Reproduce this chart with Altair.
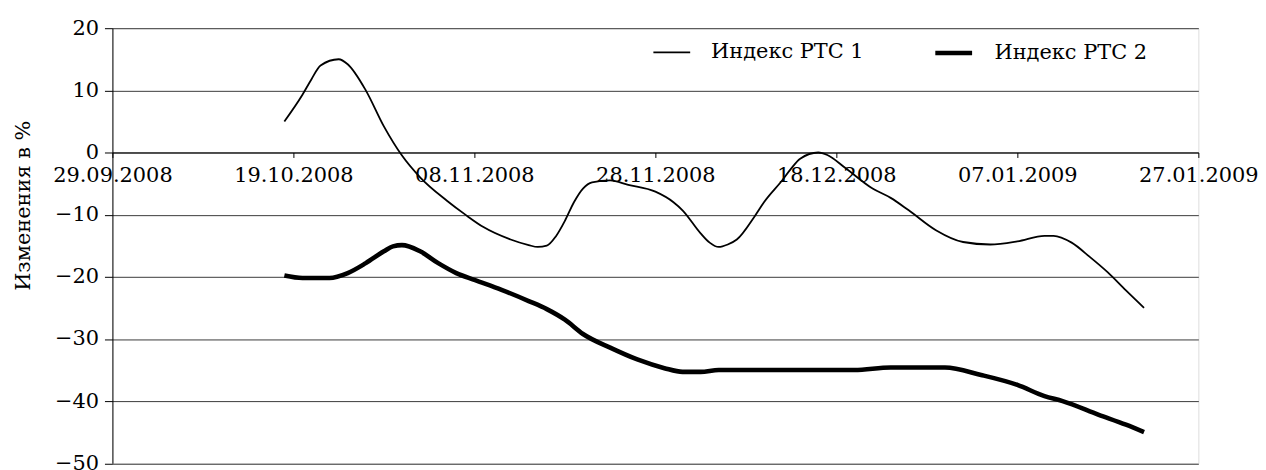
import altair as alt
import pandas as pd

# ---- data ----
series_names = ["Индекс РТС 1", "Индекс РТС 2"]

dates_1 = ["2008-10-18", "2008-10-20", "2008-10-21", "2008-10-22", "2008-10-24", "2008-10-25",
           "2008-10-27", "2008-10-29", "2008-10-31", "2008-11-02", "2008-11-05", "2008-11-07",
           "2008-11-09", "2008-11-12", "2008-11-14", "2008-11-15", "2008-11-16", "2008-11-17",
           "2008-11-18", "2008-11-19", "2008-11-20", "2008-11-21", "2008-11-23", "2008-11-25",
           "2008-11-28", "2008-11-30", "2008-12-01", "2008-12-03", "2008-12-04", "2008-12-05",
           "2008-12-06", "2008-12-07", "2008-12-09", "2008-12-10", "2008-12-12", "2008-12-13",
           "2008-12-14", "2008-12-16", "2008-12-17", "2008-12-19", "2008-12-22", "2008-12-24",
           "2008-12-26", "2008-12-29", "2009-01-01", "2009-01-04", "2009-01-07", "2009-01-10",
           "2009-01-11", "2009-01-13", "2009-01-15", "2009-01-17", "2009-01-19", "2009-01-21"]
values_1 = [5.0, 9.3, 11.8, 14.0, 15.0, 14.2,
            10.0, 4.2, -0.5, -4.0, -7.8, -10.0,
            -12.0, -14.0, -14.9, -15.2, -15.0, -13.5,
            -11.0, -8.0, -5.8, -4.8, -4.5, -5.2,
            -6.3, -8.0, -9.3, -13.0, -14.5, -15.2,
            -14.8, -14.0, -10.2, -8.0, -4.5, -2.6,
            -1.0, 0.0, -0.4, -2.5, -5.8, -7.3,
            -9.3, -12.5, -14.4, -14.8, -14.3, -13.4,
            -13.4, -14.5, -16.8, -19.3, -22.2, -25.0]

dates_2 = ["2008-10-18", "2008-10-20", "2008-10-23", "2008-10-25", "2008-10-27", "2008-10-29",
           "2008-10-30", "2008-10-31", "2008-11-02", "2008-11-04", "2008-11-06", "2008-11-08",
           "2008-11-11", "2008-11-14", "2008-11-16", "2008-11-18", "2008-11-20", "2008-11-23",
           "2008-11-26", "2008-11-29", "2008-12-01", "2008-12-03", "2008-12-05", "2008-12-10",
           "2008-12-16", "2008-12-20", "2008-12-24", "2008-12-30", "2009-01-03", "2009-01-07",
           "2009-01-10", "2009-01-12", "2009-01-16", "2009-01-19", "2009-01-21"]
values_2 = [-19.8, -20.2, -20.2, -19.4, -17.8, -15.9,
            -15.1, -14.9, -15.9, -17.8, -19.4, -20.5,
            -22.1, -23.9, -25.2, -26.9, -29.2, -31.4,
            -33.3, -34.7, -35.3, -35.3, -35.0, -35.0,
            -35.0, -35.0, -34.6, -34.6, -35.8, -37.4,
            -39.2, -40.0, -42.2, -43.8, -45.0]

x_tick_labels = ["29.09.2008", "19.10.2008", "08.11.2008", "28.11.2008",
                 "18.12.2008", "07.01.2009", "27.01.2009"]
y_ticks = [-50, -40, -30, -20, -10, 0, 10, 20]

y_title = "Изменения в %"

# ---- build table ----
df = pd.concat([
    pd.DataFrame({"date": dates_1, "value": values_1, "series": series_names[0]}),
    pd.DataFrame({"date": dates_2, "value": values_2, "series": series_names[1]}),
], ignore_index=True)


def to_ms(s):
    return int(pd.to_datetime(s, dayfirst=True).value // 10**6)


tick_ms = [to_ms(t) for t in x_tick_labels]

FONT = "DejaVu Serif"
FS = 21
W, H = 1092, 437.5
zero_offset = -(H - H * 20 / 70)

lines = alt.Chart(df).mark_line(color="black", interpolate="monotone").encode(
    x=alt.X("date:T",
            scale=alt.Scale(type="utc", domain=[tick_ms[0], tick_ms[-1]], nice=False),
            axis=alt.Axis(values=tick_ms, title=None, grid=False,
                          labelExpr="utcFormat(datum.value, '%d.%m.%Y')",
                          offset=zero_offset, domainColor="black", tickColor="black",
                          tickSize=5, labelPadding=7, labelFont=FONT, labelFontSize=FS,
                          labelColor="black", labelFlush=False, labelOverlap=False)),
    y=alt.Y("value:Q",
            scale=alt.Scale(domain=[-50, 20], nice=False),
            axis=alt.Axis(values=y_ticks, title=y_title, grid=True, gridColor="#3a3a3a",
                          gridWidth=1, domainColor="black", tickColor="black", tickSize=8,
                          labelPadding=6, labelFont=FONT, labelFontSize=FS, labelColor="black",
                          titleFont=FONT, titleFontSize=FS, titleFontWeight="normal",
                          titleColor="black", titleX=-89, titleY=178, titleAngle=270,
                          titleAlign="center", titleBaseline="middle")),
    strokeWidth=alt.StrokeWidth("series:N",
                                scale=alt.Scale(domain=series_names, range=[1.8, 4.6]),
                                legend=alt.Legend(title=None, orient="none", legendX=543,
                                                  legendY=4, direction="horizontal",
                                                  symbolType="stroke", symbolSize=1369,
                                                  symbolStrokeColor="black",
                                                  labelFont=FONT, labelFontSize=FS,
                                                  labelColor="black", labelOffset=20,
                                                  columnPadding=62)),
    detail="series:N",
)

chart = lines.properties(
    width=W, height=H,
    autosize=alt.AutoSizeParams(type="none"),
    padding={"left": 105, "top": 19, "right": 60, "bottom": 10},
).configure_view(stroke="black", strokeWidth=1).configure(background="white",
                                                          font=FONT)

chart.save("out.html", embed_options={"renderer": "svg", "actions": False})
